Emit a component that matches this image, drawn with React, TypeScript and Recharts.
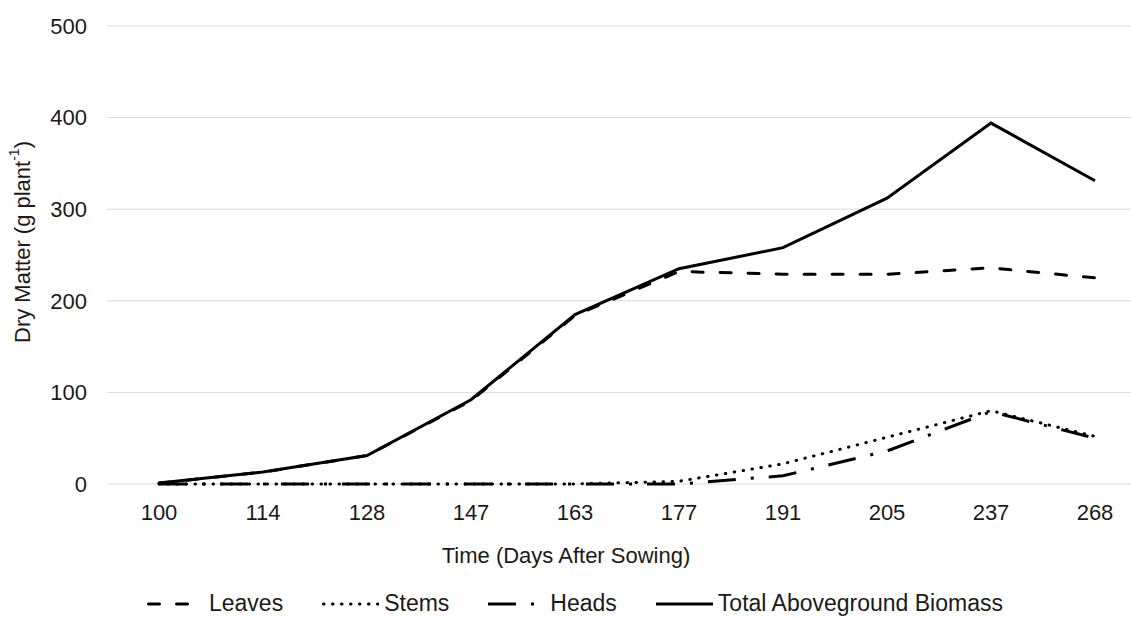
import { LineChart, Line, XAxis, YAxis, CartesianGrid, Legend, Label } from "recharts";

// values
const DAYS = ["100", "114", "128", "147", "163", "177", "191", "205", "237", "268"];
const LEAVES = [1, 13, 31, 91, 184, 232, 229, 229, 236, 225];
const STEMS = [0, 0, 0, 0, 0, 3, 22, 51, 80, 52];
const HEADS = [0, 0, 0, 0, 0, 0, 9, 36, 79, 50];
const TOTAL = [1, 13, 31, 92, 185, 235, 258, 312, 394, 331];
const Y_TICKS = [0, 100, 200, 300, 400, 500];

const SERIES = [
  { key: "leaves", name: "Leaves", dash: "11 17", cap: "round" },
  { key: "stems", name: "Stems", dash: "0.5 8.5", cap: "round" },
  { key: "heads", name: "Heads", dash: "28 15 3 15", cap: "butt" },
  { key: "total", name: "Total Aboveground Biomass", dash: undefined, cap: "butt" },
] as const;

const FONT = "'Liberation Sans', Arial, sans-serif";
const TEXT = "#1a1a1a";

const chartData = DAYS.map((d, i) => ({
  day: d,
  leaves: LEAVES[i],
  stems: STEMS[i],
  heads: HEADS[i],
  total: TOTAL[i],
}));

function YTitle() {
  return (
    <text
      x={22}
      y={242}
      transform="rotate(-90, 22, 242)"
      textAnchor="middle"
      dominantBaseline="central"
      fontSize={22}
      fill={TEXT}
      fontFamily={FONT}
    >
      Dry Matter (g plant
      <tspan dy={-8} fontSize={14}>
        -1
      </tspan>
      <tspan dy={8}>)</tspan>
    </text>
  );
}

function XTitle() {
  return (
    <text x={566} y={563} textAnchor="middle" fontSize={22} fill={TEXT} fontFamily={FONT}>
      Time (Days After Sowing)
    </text>
  );
}

function LegendContent() {
  return (
    <div style={{ display: "flex", alignItems: "center", paddingLeft: 147, fontFamily: FONT, fontSize: 23, color: TEXT }}>
      {SERIES.map((s) => (
        <div key={s.key} style={{ display: "flex", alignItems: "center", marginRight: 39 }}>
          <svg width={57} height={10} style={{ marginRight: 5 }}>
            <line
              x1={s.cap === "round" ? 1.5 : 0}
              y1={5}
              x2={57}
              y2={5}
              stroke="#000"
              strokeWidth={3}
              strokeDasharray={s.dash}
              strokeLinecap={s.cap}
            />
          </svg>
          <span>{s.name}</span>
        </div>
      ))}
    </div>
  );
}

export default function App() {
  return (
    <div style={{ position: "absolute", left: 0, top: 0, width: 1131, height: 617, overflow: "hidden", background: "#fff" }}>
      <LineChart
        width={1160}
        height={617}
        data={chartData}
        margin={{ top: 26, right: 13, bottom: 73, left: 0 }}
      >
        <CartesianGrid horizontal vertical={false} stroke="#d9d9d9" strokeWidth={1} />
        <XAxis
          dataKey="day"
          scale="band"
          height={60}
          axisLine={false}
          tickLine={false}
          tickSize={0}
          tickMargin={20}
          interval={0}
          tick={{ fontSize: 22, fill: TEXT, fontFamily: FONT }}
        >
          <Label content={<XTitle />} />
        </XAxis>
        <YAxis
          width={107}
          domain={[0, 500]}
          ticks={Y_TICKS}
          axisLine={false}
          tickLine={false}
          tickSize={0}
          tickMargin={20}
          tick={{ fontSize: 22, fill: TEXT, fontFamily: FONT }}
        >
          <Label content={<YTitle />} />
        </YAxis>
        <Legend
          layout="horizontal"
          verticalAlign="middle"
          align="center"
          content={<LegendContent />}
          wrapperStyle={{ top: 590, left: 0, width: 1131, height: 30 }}
        />
        {SERIES.map((s) => (
          <Line
            key={s.key}
            type="linear"
            dataKey={s.key}
            name={s.name}
            stroke="#000"
            strokeWidth={3}
            strokeDasharray={s.dash}
            strokeLinecap={s.cap}
            dot={false}
            activeDot={false}
            isAnimationActive={false}
          />
        ))}
      </LineChart>
    </div>
  );
}
